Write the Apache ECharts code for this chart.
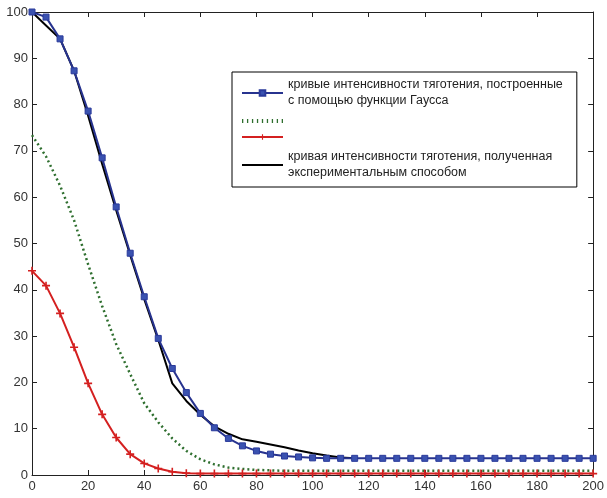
<!DOCTYPE html>
<html>
<head>
<meta charset="utf-8">
<script src="https://cdn.jsdelivr.net/npm/echarts@6/dist/echarts.min.js"></script>
<style>html,body{margin:0;padding:0;background:#fff}#c{width:607px;height:498px}</style>
</head>
<body>
<div id="c"></div>
<script>
// x positions of the sampled points
var xVals = [0,5,10,15,20,25,30,35,40,45,50,55,60,65,70,75,80,85,90,95,100,
  105,110,115,120,125,130,135,140,145,150,155,160,165,170,175,180,185,190,195,200];
var xBlack = [0,5,10,15,20,25,30,35,40,45,50,55,60,65,70,75,80,85,90,95,100,105,110,115];

// Gaussian curve (blue, squares)
var blueVals = [100,98.9,94.2,87.3,78.6,68.5,57.9,47.9,38.5,29.5,23.0,17.8,13.3,10.2,7.9,6.3,5.2,4.5,4.1,3.9,3.7,
  3.6,3.6,3.6,3.6,3.6,3.6,3.6,3.6,3.6,3.6,3.6,3.6,3.6,3.6,3.6,3.6,3.6,3.6,3.6,3.6];
// dotted green curve
var greenVals = [73.4,68.8,62.5,55.0,45.5,36.5,28.3,21.8,15.5,11.4,7.9,5.2,3.4,2.3,1.6,1.3,1.1,1.0,
  0.9,0.9,0.9,0.9,0.9,0.9,0.9,0.9,0.9,0.9,0.9,0.9,0.9,0.9,0.9,0.9,0.9,0.9,0.9,0.9,0.9,0.9,0.9];
// red curve with plus markers
var redVals = [44.1,40.9,34.9,27.6,19.8,13.1,8.1,4.5,2.5,1.4,0.7,0.4,0.3,
  0.3,0.3,0.3,0.3,0.3,0.3,0.3,0.3,0.3,0.3,0.3,0.3,0.3,0.3,0.3,0.3,0.3,0.3,0.3,0.3,0.3,0.3,0.3,0.3,0.3,0.3,0.3,0.3];
// experimental curve (black)
var blackVals = [100,97.1,94.2,87.3,77.6,67.2,57.2,47.5,38.0,29.2,19.8,16.0,13.0,10.5,8.9,7.7,7.2,6.6,6.0,5.3,4.7,4.2,3.8,3.6];

var xTicks = [0,20,40,60,80,100,120,140,160,180,200];
var yTicks = [0,10,20,30,40,50,60,70,80,90,100];

var nameBlue = 'кривые интенсивности тяготения, построенные\nс помощью функции Гаусса';
var nameGreen = ' ';
var nameRed = '  ';
var nameBlack = 'кривая интенсивности тяготения, полученная\nэкспериментальным способом';

function pairs(xs, ys){ var o=[]; for (var i=0;i<ys.length;i++) o.push([xs[i], ys[i]]); return o; }

var chart = echarts.init(document.getElementById('c'), null, {renderer:'canvas'});
var font = 'Liberation Sans, Arial, sans-serif';
var plusPath = 'path://M4,0h2v4h4v2h-4v4h-2v-4h-4v-2h4z';
var dotIcon = 'path://M0,0h1.3v4h-1.3zM5,0h1.3v4h-1.3zM10,0h1.3v4h-1.3zM15,0h1.3v4h-1.3zM20,0h1.3v4h-1.3zM25,0h1.3v4h-1.3zM30,0h1.3v4h-1.3zM35,0h1.3v4h-1.3zM40,0h1.3v4h-1.3z';

var axisCommon = {
  type:'value', splitLine:{show:false},
  axisLine:{show:true, onZero:false, lineStyle:{color:'#222', width:1}},
  axisTick:{show:true, inside:true, length:5, lineStyle:{color:'#222'}}
};

chart.setOption({
  animation:false,
  backgroundColor:'#fff',
  textStyle:{fontFamily:font},
  grid:{left:32, right:9, top:12, bottom:23, containLabel:false},
  legend:{
    orient:'vertical', left:232, top:72,
    itemWidth:41, itemHeight:7, itemGap:8,
    padding:[5,14,6,9],
    borderColor:'#000', borderWidth:1, backgroundColor:'#fff',
    align:'left',
    textStyle:{fontSize:12.5, color:'#222', fontFamily:font, lineHeight:16},
    data:[
      {name:nameBlue},
      {name:nameGreen, icon:dotIcon, itemStyle:{color:'#2f6f2f'}, textStyle:{lineHeight:8, fontSize:8}},
      {name:nameRed, textStyle:{lineHeight:8, fontSize:8}},
      {name:nameBlack, icon:'path://M0,0h40v2h-40z', itemStyle:{color:'#000'}}
    ]
  },
  xAxis:[
    Object.assign({}, axisCommon, {min:xTicks[0], max:xTicks[xTicks.length-1], interval:xTicks[1]-xTicks[0], position:'bottom',
      axisLabel:{fontSize:13, color:'#333', margin:5, fontFamily:font, showMaxLabel:true, showMinLabel:true}}),
    Object.assign({}, axisCommon, {min:xTicks[0], max:xTicks[xTicks.length-1], interval:xTicks[1]-xTicks[0], position:'top',
      axisLabel:{show:false}})
  ],
  yAxis:[
    Object.assign({}, axisCommon, {min:yTicks[0], max:yTicks[yTicks.length-1], interval:yTicks[1]-yTicks[0], position:'left',
      axisLabel:{fontSize:13, color:'#333', margin:4, fontFamily:font}}),
    Object.assign({}, axisCommon, {min:yTicks[0], max:yTicks[yTicks.length-1], interval:yTicks[1]-yTicks[0], position:'right',
      axisLabel:{show:false}})
  ],
  series:[
    {name:nameBlack, type:'line', data:pairs(xBlack, blackVals), symbol:'none', z:2,
      lineStyle:{color:'#000', width:2}, itemStyle:{color:'#000'}},
    {name:nameGreen, type:'line', data:pairs(xVals, greenVals), symbol:'none', z:3,
      lineStyle:{color:'#2f6f2f', width:2.5, type:[2,3], cap:'butt'}, itemStyle:{color:'#2f6f2f'}},
    {name:nameRed, type:'line', data:pairs(xVals, redVals), symbol:plusPath, symbolSize:8, z:4,
      lineStyle:{color:'#d42020', width:2}, itemStyle:{color:'#d42020'}},
    {name:nameBlue, type:'line', data:pairs(xVals, blueVals), symbol:'rect', symbolSize:6, z:5,
      lineStyle:{color:'#27338f', width:2}, itemStyle:{color:'#3a52b0', borderColor:'#2a3a9a', borderWidth:1}}
  ]
});
</script>
</body>
</html>
